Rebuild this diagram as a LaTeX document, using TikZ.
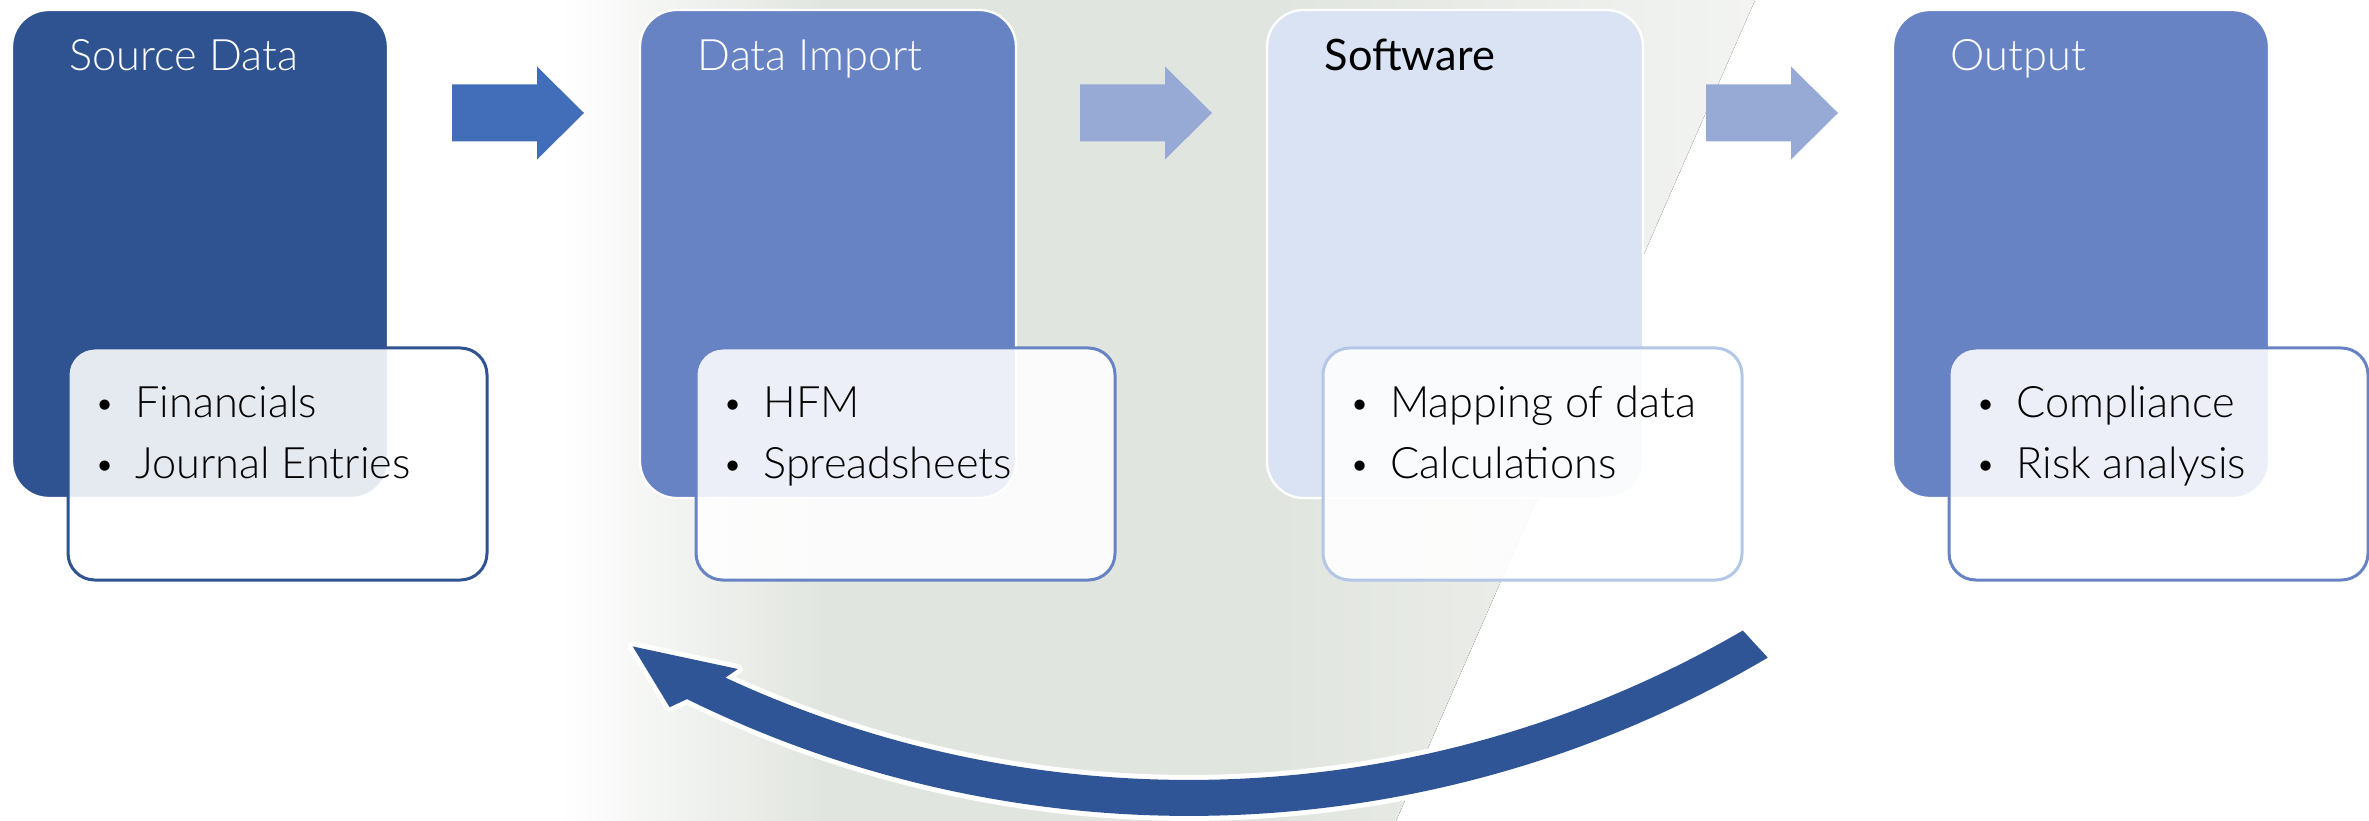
\documentclass[tikz,border=0pt]{standalone}
\usepackage{fontspec}
\setmainfont{Lato}[UprightFont=* Light, BoldFont=* Regular]
\usepackage{tikz}
\usetikzlibrary{calc}

\definecolor{srcblue}{RGB}{47,83,145}
\definecolor{midblue}{RGB}{103,131,196}
\definecolor{paleblue}{RGB}{218,227,243}
\definecolor{paleline}{RGB}{180,199,231}
\definecolor{arrowblue}{RGB}{65,109,185}
\definecolor{arrowpale}{RGB}{151,169,213}
\definecolor{loopblue}{RGB}{47,85,151}
\definecolor{bggrey}{RGB}{225,229,223}
\definecolor{bglight}{RGB}{243,244,242}

\pgfdeclarehorizontalshading{bgshade}{100bp}{color(0bp)=(white); color(25bp)=(white); color(36bp)=(bggrey); color(55bp)=(bggrey); color(75bp)=(bglight); color(100bp)=(bglight)}

\newcommand{\itm}[1]{\makebox[9.2pt][l]{\hspace{-3pt}\raisebox{0.6pt}{\scalebox{0.8}{\textbullet}}}#1}

\begin{document}
\begin{tikzpicture}[x=0.3pt,y=0.3pt,yscale=-1,xscale=1,
    stage/.style={rectangle, rounded corners=11pt, minimum width=112.8pt, minimum height=146.4pt, draw=white, line width=0.7pt, inner sep=0pt},
    listbox/.style={rectangle, rounded corners=8pt, minimum width=125.7pt, minimum height=69.6pt, fill=white, fill opacity=0.88, line width=0.9pt, inner sep=0pt},
    title/.style={anchor=base west, inner sep=0pt, font=\fontsize{13}{15}\selectfont},
    item/.style={anchor=base west, inner sep=0pt, text=black, font=\fontsize{13}{15}\selectfont},
    flowarrow/.pic={\path[pic actions] (-66,-28.5) -- (19,-28.5) -- (19,-46.5) -- (66,0) -- (19,46.5) -- (19,28.5) -- (-66,28.5) -- cycle;}]
        \useasboundingbox (0,0) rectangle (2369,821);

        % Background band
        \fill[shading=bgshade] (560,0) -- (1755,0) -- (1396,821) -- (560,821) -- cycle;

        % Stage boxes
        \node[stage, fill=srcblue] (src) at (200,254) {};
        \node[stage, fill=midblue] (imp) at (828,254) {};
        \node[stage, fill=paleblue] (soft) at (1455,254) {};
        \node[stage, fill=midblue] (out) at (2081,254) {};

        % Titles
        \node[title, text=white] (srct) at (69,71) {Source Data};
        \node[title, text=white] (impt) at (697,71) {Data Import};
        \node[title, text=black] (softt) at (1324,71) {\bfseries Software};
        \node[title, text=white] (outt) at (1950,71) {Output};

        % List boxes
        \node[listbox, draw=srcblue] (srcl) at (277.5,464) {};
        \node[listbox, draw=midblue] (impl) at (905.5,464) {};
        \node[listbox, draw=paleline] (softl) at (1532.5,464) {};
        \node[listbox, draw=midblue] (outl) at (2158.5,464) {};

        % List items
        \node[item] (fin) at (104,418) {\itm{Financials}};
        \node[item] (jour) at (104,478) {\itm{Journal Entries}};
        \node[item] (hfm) at (732,418) {\itm{HFM}};
        \node[item] (sheet) at (732,478) {\itm{Spreadsheets}};
        \node[item] (map) at (1359,418) {\itm{Mapping of data}};
        \node[item] (calc) at (1359,478) {\itm{Calculations}};
        \node[item] (comp) at (1985,418) {\itm{Compliance}};
        \node[item] (risk) at (1985,478) {\itm{Risk analysis}};

        % Flow arrows
        \pic[fill=arrowblue] at (518,113) {flowarrow};
        \pic[fill=arrowpale] at (1146,113) {flowarrow};
        \pic[fill=arrowpale] at (1772,113) {flowarrow};

        % Return arrow
        \coordinate (hub) at (1189,-321);
        \fill[loopblue, preaction={draw=white, line width=3pt, line join=round}]
            ($(hub)+(59.4:1137)$) arc[start angle=59.4, end angle=116.2, radius=1137]
            -- ($(hub)+(116.8:1152)$) -- ($(hub)+(119.9:1116)$) -- ($(hub)+(114.5:1088)$)
            -- ($(hub)+(114.9:1101)$) arc[start angle=114.9, end angle=59.8, radius=1101] -- cycle;

\end{tikzpicture}
\end{document}
